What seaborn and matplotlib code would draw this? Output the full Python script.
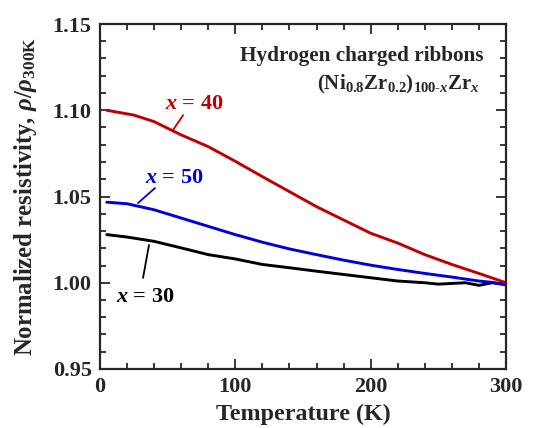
import numpy as np
import pandas as pd
import matplotlib
matplotlib.use("Agg")
import matplotlib.pyplot as plt
import seaborn as sns
from matplotlib.ticker import MultipleLocator

# ---- data ----
temp_x40 = [5, 25, 40, 60, 80, 100, 120, 140, 160, 180, 200, 220, 240, 260, 280, 300]
rho_x40 = [1.100, 1.0972, 1.0934, 1.0857, 1.0789, 1.0704, 1.0615, 1.0528, 1.0441,
           1.0364, 1.0287, 1.0230, 1.0163, 1.0106, 1.0054, 1.0000]

temp_x50 = [5, 20, 40, 60, 80, 100, 120, 140, 160, 180, 200, 220, 240, 260, 280, 290, 300]
rho_x50 = [1.0467, 1.0458, 1.0423, 1.0375, 1.0327, 1.0279, 1.0235, 1.0196, 1.0163,
           1.0131, 1.0102, 1.0077, 1.0054, 1.0033, 1.0010, 1.0002, 0.9987]

temp_x30 = [5, 20, 40, 60, 80, 100, 120, 140, 160, 180, 200, 220, 240, 250, 260, 270, 280, 290, 300]
rho_x30 = [1.0279, 1.0265, 1.0240, 1.0202, 1.0163, 1.0138, 1.0106, 1.0087, 1.0067,
           1.0048, 1.0029, 1.0010, 1.0000, 0.9992, 0.9996, 1.0000, 0.9985, 1.0000, 0.9990]

series_names = ["x = 30", "x = 40", "x = 50"]
series_colors = ["#000000", "#c00000", "#0000dd"]

x_ticks = [0, 100, 200, 300]
y_ticks = [0.95, 1.00, 1.05, 1.10, 1.15]
y_tick_labels = ["0.95", "1.00", "1.05", "1.10", "1.15"]

df = pd.concat([
    pd.DataFrame({"T": temp_x30, "rho": rho_x30, "s": series_names[0]}),
    pd.DataFrame({"T": temp_x40, "rho": rho_x40, "s": series_names[1]}),
    pd.DataFrame({"T": temp_x50, "rho": rho_x50, "s": series_names[2]}),
])

sns.set_style("ticks")
plt.rcParams["font.family"] = ["Liberation Serif", "DejaVu Serif"]
plt.rcParams["font.weight"] = "bold"
plt.rcParams["mathtext.fontset"] = "custom"
plt.rcParams["mathtext.rm"] = "Liberation Serif:bold"
plt.rcParams["mathtext.bf"] = "Liberation Serif:bold"
plt.rcParams["mathtext.it"] = "Liberation Serif:italic:bold"

fig = plt.figure(figsize=(5.36, 4.28), dpi=100)
ax = fig.add_axes([100 / 536, 1 - 369 / 428, 406 / 536, 345 / 428])

sns.lineplot(data=df, x="T", y="rho", hue="s", palette=dict(zip(series_names, series_colors)),
             linewidth=2.1, legend=False, ax=ax, estimator=None, sort=True)

ax.set_xlim(0, 300)
ax.set_ylim(0.95, 1.15)
ax.set_xticks(x_ticks)
ax.set_yticks(y_ticks)
ax.set_yticklabels(y_tick_labels)
ax.xaxis.set_minor_locator(MultipleLocator(20))
ax.yaxis.set_minor_locator(MultipleLocator(0.01))
ax.tick_params(which="both", direction="in", top=True, right=True, width=1.3,
               labelsize=16, pad=6)
ax.tick_params(which="major", length=7)
ax.tick_params(which="minor", length=4)
for sp in ax.spines.values():
    sp.set_linewidth(1.6)
for lab in ax.get_xticklabels() + ax.get_yticklabels():
    lab.set_fontweight("bold")

ax.set_xlabel("Temperature (K)", fontsize=17.3, fontweight="bold", labelpad=5)
ax.set_ylabel(r"Normalized resistivity, $\rho/\rho_{300\mathrm{K}}$", fontsize=17.8,
              fontweight="bold", labelpad=10)

# annotations
ax.text(0.945, 0.908, "Hydrogen charged ribbons", transform=ax.transAxes,
        ha="right", va="center", fontsize=15.3, fontweight="bold")
ax.text(0.935, 0.825, r"$(\mathrm{Ni}_{0.8}\mathrm{Zr}_{0.2})_{100\text{-}x}\mathrm{Zr}_{x}$",
        transform=ax.transAxes, ha="right", va="center", fontsize=15)

ax.text(48, 1.1035, r"$x$ = 40", color=series_colors[1], fontsize=16, fontweight="bold",
        ha="left", va="center")
ax.plot([54, 61.4], [1.0886, 1.0971], color=series_colors[1], lw=1.3)

ax.text(33, 1.061, r"$x$ = 50", color=series_colors[2], fontsize=16, fontweight="bold",
        ha="left", va="center")
ax.plot([28.1, 40.6], [1.0462, 1.0549], color=series_colors[2], lw=1.3)

ax.text(12, 0.992, r"$x$ = 30", color=series_colors[0], fontsize=16, fontweight="bold",
        ha="left", va="center")
ax.plot([36.2, 31.8], [1.0219, 1.0028], color=series_colors[0], lw=1.3)

fig.savefig("out.png", dpi=100)
